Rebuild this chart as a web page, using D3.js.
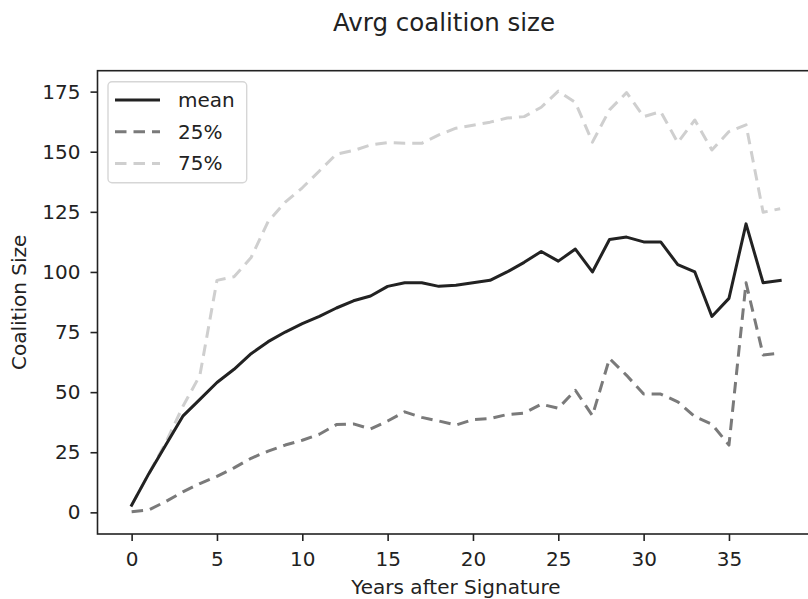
<!DOCTYPE html>
<html>
<head>
<meta charset="utf-8">
<script src="https://cdn.jsdelivr.net/npm/d3@7"></script>
<style>
  html, body { margin: 0; padding: 0; background: #fff; }
  svg { display: block; font-family: "DejaVu Sans", sans-serif; }
</style>
</head>
<body>
<svg id="chart" width="808" height="599"></svg>
<script>
const years = d3.range(0, 39);
const meanValues = [3, 16, 28, 40, 47, 54, 59.5, 66, 71, 75, 78.5, 81.5, 85, 88, 90, 94, 95.5, 95.5, 94, 94.5, 95.5, 96.5, 100, 104, 108.5, 104.5, 109.5, 100, 113.5, 114.5, 112.5, 112.5, 103, 100, 81.5, 89, 120, 95.5, 96.5];
const p25Values = [0.3, 1, 4.5, 8.5, 12, 15, 18.5, 22.5, 25.5, 28, 30, 32.5, 36.5, 36.8, 34.7, 38, 41.8, 39.5, 38, 36.3, 38.6, 39, 40.7, 41.3, 45, 43.3, 50.8, 40.2, 64, 57, 49.2, 49.2, 46, 39.8, 36.7, 28, 95.5, 65.5, 66.2];
const p75Values = [3, 16, 29, 44, 57, 96.5, 98, 106, 121, 129, 135, 142, 149, 150.5, 152.8, 153.8, 153.5, 153.5, 157, 159.8, 161, 162.3, 164, 164.6, 168.5, 175.2, 170.5, 154, 167.4, 174.6, 164.6, 166.7, 153.8, 163.2, 150.7, 158.4, 161.2, 124.8, 126.3];
const seriesNames = ["mean", "25%", "75%"];
const xTicks = [0, 5, 10, 15, 20, 25, 30, 35];
const yTicks = [0, 25, 50, 75, 100, 125, 150, 175];
const titleText = "Avrg coalition size";
const xLabel = "Years after Signature";
const yLabel = "Coalition Size";

const series = [
  { name: seriesNames[0], values: meanValues, color: "#222222", dash: null },
  { name: seriesNames[1], values: p25Values, color: "#7a7a7a", dash: "11.5,7" },
  { name: seriesNames[2], values: p75Values, color: "#cfcfcf", dash: "11.5,7" }
];

const svg = d3.select("#chart");
const pLeft = 97.5, pRight = 814.3, pTop = 70.7, pBottom = 534;
const x = d3.scaleLinear().domain([-2, 40]).range([pLeft, pRight]);
const y = d3.scaleLinear().domain([-9.0, 183.7]).range([pBottom, pTop]);

const fontSize = 20;

svg.append("defs").append("clipPath").attr("id", "clip")
  .append("rect").attr("x", pLeft).attr("y", pTop).attr("width", pRight - pLeft).attr("height", pBottom - pTop);

const line = d3.line().x((d, i) => x(years[i])).y(d => y(d));
const plot = svg.append("g").attr("clip-path", "url(#clip)");
series.slice().reverse().forEach(s => {
  plot.append("path")
    .datum(s.values)
    .attr("d", line)
    .attr("fill", "none")
    .attr("stroke", s.color)
    .attr("stroke-width", 3)
    .attr("stroke-dasharray", s.dash)
    .attr("stroke-linejoin", "round")
    .attr("stroke-linecap", s.dash ? "butt" : "square");
});

const xAxis = d3.axisBottom(x).tickValues(xTicks).tickSize(7).tickPadding(10.5).tickSizeOuter(0);
const yAxis = d3.axisLeft(y).tickValues(yTicks).tickSize(7).tickPadding(10).tickSizeOuter(0);
const gx = svg.append("g").attr("transform", `translate(0,${pBottom})`).call(xAxis);
const gy = svg.append("g").attr("transform", `translate(${pLeft},0)`).call(yAxis);
[gx, gy].forEach(g => {
  g.select(".domain").remove();
  g.selectAll(".tick line").attr("stroke", "#222").attr("stroke-width", 1.6);
  g.selectAll(".tick text").attr("fill", "#222").style("font-size", fontSize + "px")
    .style("font-family", "DejaVu Sans, sans-serif");
});

svg.append("rect").attr("x", pLeft).attr("y", pTop).attr("width", pRight - pLeft).attr("height", pBottom - pTop)
  .attr("fill", "none").attr("stroke", "#222").attr("stroke-width", 1.6);

svg.append("text").attr("x", 444).attr("y", 31).attr("text-anchor", "middle")
  .style("font-size", "24.5px").attr("fill", "#222").text(titleText);
svg.append("text").attr("x", (pLeft + pRight) / 2).attr("y", 594).attr("text-anchor", "middle")
  .style("font-size", fontSize + "px").attr("fill", "#222").text(xLabel);
svg.append("text").attr("transform", `translate(26,${(pTop + pBottom) / 2}) rotate(-90)`)
  .attr("text-anchor", "middle")
  .style("font-size", fontSize + "px").attr("fill", "#222").text(yLabel);

const lg = svg.append("g");
lg.append("rect").attr("x", 108).attr("y", 81.7).attr("width", 138.7).attr("height", 101)
  .attr("rx", 4).attr("fill", "rgba(255,255,255,0.8)").attr("stroke", "#d6d6d6").attr("stroke-width", 1.4);
series.forEach((s, i) => {
  const cy = 100 + i * 31.7;
  lg.append("line").attr("x1", 115).attr("x2", 160).attr("y1", cy).attr("y2", cy)
    .attr("stroke", s.color).attr("stroke-width", 3).attr("stroke-dasharray", s.dash);
  lg.append("text").attr("x", 178).attr("y", cy).attr("dy", "0.35em")
    .style("font-size", fontSize + "px").attr("fill", "#222").text(s.name);
});
</script>
</body>
</html>
